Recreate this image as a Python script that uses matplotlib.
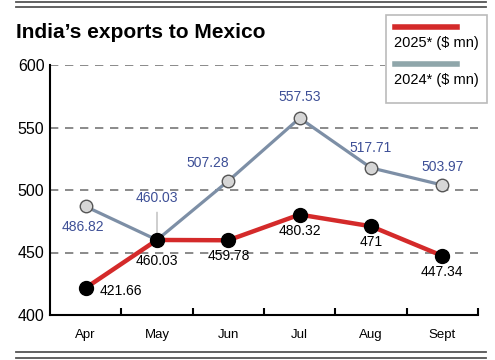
import matplotlib
matplotlib.use('Agg')
import matplotlib.pyplot as plt
from matplotlib.lines import Line2D
from matplotlib.patches import Rectangle

plt.rcParams['font.family'] = ['Liberation Sans', 'DejaVu Sans']

months = ['Apr', 'May', 'Jun', 'Jul', 'Aug', 'Sept']
exp_2025 = [421.66, 460.03, 459.78, 480.32, 471, 447.34]
exp_2024 = [486.82, 460.03, 507.28, 557.53, 517.71, 503.97]
labels_2025 = ['421.66', '460.03', '459.78', '480.32', '471', '447.34']
labels_2024 = ['486.82', '460.03', '507.28', '557.53', '517.71', '503.97']

# label offsets in points (dx, dy)
off_2025 = [(25, -2), (0, -15), (0, -11), (0, -12), (0, -11), (0, -12)]
off_2024 = [(-2, -15), (0, 30), (-15, 13), (0, 15), (0, 14), (0, 13)]

RED = '#d42a2a'
GREY = '#7d8fa6'
BLUE = '#3d4f96'

fig = plt.figure(figsize=(4.95, 3.6), dpi=100)
ax = fig.add_axes([50/495, 1-315/360, 428/495, 250/360])

x = list(range(len(months)))
ax.plot(x, exp_2024, color=GREY, lw=2.3, marker='o', ms=9,
        mfc='#d6d6d6', mec='#555555', mew=1.0, zorder=3)
ax.plot(x, exp_2025, color=RED, lw=3.2, marker='o', ms=10,
        mfc='black', mec='black', zorder=4)

for i, (v, t) in enumerate(zip(exp_2025, labels_2025)):
    ax.annotate(t, (i, v), xytext=off_2025[i], textcoords='offset points',
                ha='center', va='center', fontsize=10, color='black')
for i, (v, t) in enumerate(zip(exp_2024, labels_2024)):
    ax.annotate(t, (i, v), xytext=off_2024[i], textcoords='offset points',
                ha='center', va='center', fontsize=10, color=BLUE)
# leader line for the May 2024 label
ax.annotate('', (1, exp_2024[1]), xytext=(0, 22), textcoords='offset points',
            arrowprops=dict(arrowstyle='-', color='#aaaaaa', lw=0.8))

ax.set_xlim(-0.5, 5.5)
ax.set_ylim(400, 600)
ax.set_yticks([400, 450, 500, 550, 600])
for y in [450, 500, 550]:
    ax.axhline(y, color='#777777', ls=(0, (5, 4)), lw=1.2, zorder=1)
ax.axhline(600, xmax=(385-50)/428, color='#777777', ls=(0, (5, 4)), lw=1.2, zorder=1)

ax.set_xticks(x)
ax.set_xticklabels(months)
ax.set_xticks([i + 0.5 for i in range(6)], minor=True)
ax.tick_params(axis='x', which='major', length=0, pad=10, labelsize=9.5)
ax.tick_params(axis='x', which='minor', direction='in', length=5, width=1.5)
ax.tick_params(axis='y', length=0, pad=4, labelsize=11.5)
for s in ['top', 'right']:
    ax.spines[s].set_visible(False)
ax.spines['left'].set_linewidth(1.5)
ax.spines['bottom'].set_linewidth(1.5)

fig.text(16/495, 1-33/360, 'India\u2019s exports to Mexico', fontsize=15,
         fontweight='bold', va='center', ha='left')

# legend box
fig.add_artist(Rectangle((386/495, 1-103/360), 101/495, 88/360,
                         transform=fig.transFigure, fill=False,
                         ec='#bbbbbb', lw=1.2))
fig.add_artist(Line2D([395/495, 457/495], [1-27/360, 1-27/360],
                      color=RED, lw=4, transform=fig.transFigure))
fig.add_artist(Line2D([395/495, 457/495], [1-64/360, 1-64/360],
                      color='#8fa6aa', lw=4, transform=fig.transFigure))
fig.text(394/495, 1-43/360, '2025* ($ mn)', fontsize=10.5,
         va='center', ha='left')
fig.text(394/495, 1-80/360, '2024* ($ mn)', fontsize=10.5,
         va='center', ha='left')

# rules at top and bottom
for yy in [2, 7, 352, 358]:
    fig.add_artist(Line2D([16/495, 486/495], [1-yy/360, 1-yy/360],
                          color='#555555', lw=1.3, transform=fig.transFigure))

fig.savefig('out.png', dpi=100)
